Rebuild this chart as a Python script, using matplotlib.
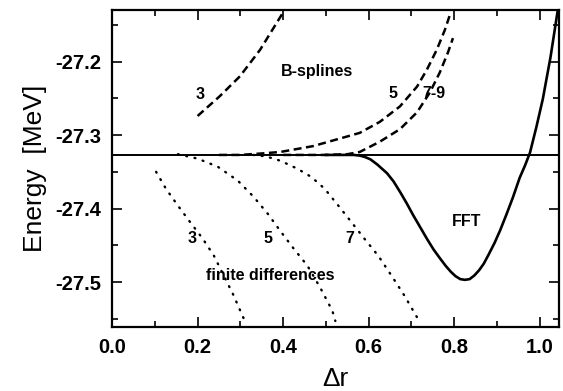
import matplotlib
matplotlib.use("Agg")
import matplotlib.pyplot as plt
from matplotlib.ticker import MultipleLocator, FormatStrFormatter

# exact value (horizontal line)
e_exact = -27.327

# B-splines (dashed)
bs3_x = [0.200, 0.252, 0.299, 0.346, 0.400]
bs3_y = [-27.274, -27.247, -27.220, -27.184, -27.133]
bs5_x = [0.25, 0.30, 0.35, 0.393, 0.47, 0.549, 0.579, 0.626, 0.673, 0.713, 0.736, 0.759, 0.778, 0.790]
bs5_y = [-27.327, -27.327, -27.325, -27.323, -27.315, -27.302, -27.297, -27.282, -27.261, -27.234,
         -27.211, -27.184, -27.157, -27.136]
bs79_x = [0.40, 0.50, 0.55, 0.579, 0.626, 0.673, 0.713, 0.743, 0.766, 0.785, 0.797]
bs79_y = [-27.327, -27.327, -27.326, -27.323, -27.309, -27.292, -27.269, -27.242, -27.215, -27.188, -27.168]

# finite differences (dotted)
fd3_x = [0.103, 0.126, 0.154, 0.182, 0.212, 0.238, 0.261, 0.284, 0.305, 0.312]
fd3_y = [-27.350, -27.373, -27.396, -27.418, -27.441, -27.464, -27.491, -27.518, -27.546, -27.555]
fd5_x = [0.154, 0.200, 0.247, 0.294, 0.331, 0.364, 0.394, 0.424, 0.457, 0.487, 0.515, 0.522]
fd5_y = [-27.326, -27.332, -27.343, -27.362, -27.384, -27.407, -27.431, -27.454, -27.478, -27.508,
         -27.539, -27.553]
fd7_x = [0.33, 0.36, 0.394, 0.434, 0.466, 0.497, 0.529, 0.559, 0.590, 0.622, 0.653, 0.683, 0.716]
fd7_y = [-27.327, -27.329, -27.335, -27.346, -27.357, -27.373, -27.396, -27.418, -27.441, -27.464,
         -27.491, -27.518, -27.551]

# FFT (solid)
fft_x = [0.50, 0.55, 0.565, 0.580, 0.592, 0.604, 0.620, 0.643, 0.658, 0.674, 0.689, 0.704, 0.720,
         0.737, 0.752, 0.767, 0.780, 0.792, 0.803, 0.814, 0.825, 0.836, 0.847, 0.858, 0.869,
         0.880, 0.894, 0.907, 0.922, 0.937, 0.953, 0.965, 0.977, 0.992, 1.007, 1.025, 1.042]
fft_y = [-27.327, -27.327, -27.327, -27.328, -27.330, -27.333, -27.340, -27.352, -27.363, -27.378,
         -27.393, -27.409, -27.425, -27.442, -27.456, -27.468, -27.478, -27.486, -27.492, -27.496,
         -27.497, -27.496, -27.491, -27.484, -27.475, -27.463, -27.447, -27.430, -27.408, -27.385,
         -27.358, -27.342, -27.324, -27.289, -27.251, -27.194, -27.130]

plt.rcParams['font.family'] = ['Liberation Sans', 'DejaVu Sans']

fig = plt.figure(figsize=(5.63, 3.91), dpi=100)
ax = fig.add_axes([0.199, 0.164, 0.794, 0.810])

ax.axhline(e_exact, color='black', lw=1.4)

dash = (0, (3.2, 1.8))
for xs, ys in [(bs3_x, bs3_y), (bs5_x, bs5_y), (bs79_x, bs79_y)]:
    ax.plot(xs, ys, color='black', lw=1.8, linestyle=dash)

for xs, ys in [(fd3_x, fd3_y), (fd5_x, fd5_y), (fd7_x, fd7_y)]:
    ax.plot(xs, ys, color='black', lw=1.7, linestyle=(0, (0.4, 3.2)), dash_capstyle='round')

ax.plot(fft_x, fft_y, color='black', lw=1.9)

txt = dict(fontsize=11.5, ha='center', va='center', fontweight='bold')
ax.text(0.206, -27.245, '3', **txt)
ax.text(0.48, -27.214, 'B-splines', **txt)
ax.text(0.657, -27.243, '5', **txt)
ax.text(0.752, -27.243, '7-9', **txt)
ax.text(0.186, -27.441, '3', **txt)
ax.text(0.365, -27.441, '5', **txt)
ax.text(0.556, -27.441, '7', **txt)
ax.text(0.371, -27.491, 'finite differences', **txt)
ax.text(0.829, -27.418, 'FFT', **txt)

ax.set_xlim(0, 1.045)
ax.set_ylim(-27.561, -27.13)
ax.xaxis.set_major_locator(MultipleLocator(0.2))
ax.xaxis.set_minor_locator(MultipleLocator(0.1))
ax.yaxis.set_major_locator(MultipleLocator(0.1))
ax.yaxis.set_minor_locator(MultipleLocator(0.05))
ax.xaxis.set_major_formatter(FormatStrFormatter('%.1f'))
ax.yaxis.set_major_formatter(FormatStrFormatter('%.1f'))
ax.tick_params(which='both', direction='in', top=True, right=True, width=1.2)
ax.tick_params(which='major', length=7, labelsize=14.5, pad=8)
ax.tick_params(which='minor', length=4)
for lab in ax.get_xticklabels() + ax.get_yticklabels():
    lab.set_fontweight('bold')
for s in ax.spines.values():
    s.set_linewidth(1.6)

ax.set_xlabel('Δr', fontsize=19, labelpad=7)
ax.set_ylabel('Energy  [MeV]', fontsize=19, labelpad=6)

fig.savefig('out.png', dpi=100)
